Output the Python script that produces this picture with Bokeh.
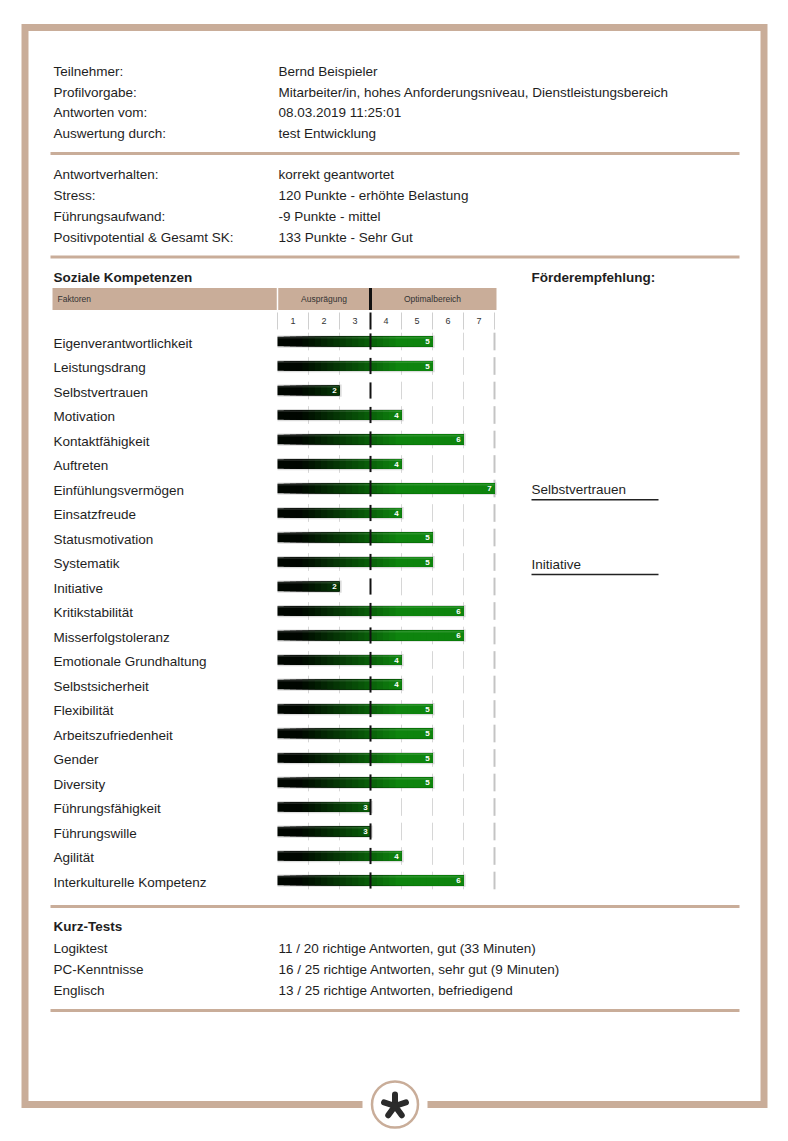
import math
from bokeh.plotting import figure
from bokeh.models import Range1d
from bokeh.core.properties import value
from bokeh.embed import file_html
from bokeh.resources import INLINE

# ---------------- data ----------------
info_labels = ["Teilnehmer:", "Profilvorgabe:", "Antworten vom:", "Auswertung durch:"]
info_values = ["Bernd Beispieler",
               "Mitarbeiter/in, hohes Anforderungsniveau, Dienstleistungsbereich",
               "08.03.2019 11:25:01",
               "test Entwicklung"]
result_labels = ["Antwortverhalten:", "Stress:", "Führungsaufwand:", "Positivpotential & Gesamt SK:"]
result_values = ["korrekt geantwortet", "120 Punkte - erhöhte Belastung",
                 "-9 Punkte - mittel", "133 Punkte - Sehr Gut"]
factors = ["Eigenverantwortlichkeit", "Leistungsdrang", "Selbstvertrauen", "Motivation",
           "Kontaktfähigkeit", "Auftreten", "Einfühlungsvermögen", "Einsatzfreude",
           "Statusmotivation", "Systematik", "Initiative", "Kritikstabilität",
           "Misserfolgstoleranz", "Emotionale Grundhaltung", "Selbstsicherheit",
           "Flexibilität", "Arbeitszufriedenheit", "Gender", "Diversity",
           "Führungsfähigkeit", "Führungswille", "Agilität", "Interkulturelle Kompetenz"]
scores = [5, 5, 2, 4, 6, 4, 7, 4, 5, 5, 2, 6, 6, 4, 4, 5, 5, 5, 5, 3, 3, 4, 6]
scale_ticks = [1, 2, 3, 4, 5, 6, 7]
optimum_start = 3
recommendations = ["Selbstvertrauen", "Initiative"]
test_names = ["Logiktest", "PC-Kenntnisse", "Englisch"]
test_results = ["11 / 20 richtige Antworten, gut (33 Minuten)",
                "16 / 25 richtige Antworten, sehr gut (9 Minuten)",
                "13 / 25 richtige Antworten, befriedigend"]

# ---------------- layout / style ----------------
W, H = 780, 1133
TAN = "#c9ad99"
TXT = "#1e1e1e"
FONT = value("Liberation Sans")
FS = "13.5px"
X0, UNIT = 277.0, 31.0      # pixel of score 0, pixels per score unit
Y0, ROW = 341.0, 24.5       # pixel of first row centre, row pitch
REC_ROWS = [6.05, 9.1]

p = figure(width=W, height=H, x_range=Range1d(0, W), y_range=Range1d(H, 0),
           output_backend="svg", toolbar_location=None, min_border=0,
           x_axis_location=None, y_axis_location=None)
p.grid.visible = False
p.outline_line_color = None
p.background_fill_color = "white"
p.border_fill_color = "white"
p.extra_x_ranges = {"score": Range1d((0 - X0) / UNIT, (W - X0) / UNIT)}
p.extra_y_ranges = {"row": Range1d((H - Y0) / ROW, (0 - Y0) / ROW)}


def txt(xs, ys, texts, size=FS, color=TXT, style="normal", align="left", **kw):
    p.text(x=xs, y=ys, text=texts, text_font=FONT, text_font_size=size,
           text_color=color, text_font_style=style, text_align=align,
           text_baseline="middle", **kw)


# outer frame with gap for the logo
CX, CY = 394.5, 1104.0
p.line([362, 24.5, 24.5, 763.5, 763.5, 427], [1104, 1104, 27, 27, 1104, 1104],
       line_color=TAN, line_width=7, line_join="miter")
p.scatter([CX], [CY], marker="circle", size=46, fill_color="white",
          line_color=TAN, line_width=2.5)
L = 11.5
ang = [math.radians(a) for a in (0, 72, 144, 216, 288)]
p.segment(x0=[CX] * 5, y0=[CY + 1.5] * 5,
          x1=[CX + L * math.sin(a) for a in ang],
          y1=[CY + 1.5 - L * math.cos(a) for a in ang],
          line_color="#2b2b2b", line_width=6, line_cap="round")

# separators
for ys in (153, 256.5, 906, 1010):
    p.segment(x0=[50], y0=[ys], x1=[739], y1=[ys], line_color=TAN, line_width=3)

# header blocks
hy = [71 + 20.7 * k for k in range(len(info_labels))]
txt([53] * len(hy), hy, info_labels)
txt([278] * len(hy), hy, info_values)
ry = [173.5 + 21.2 * k for k in range(len(result_labels))]
txt([53] * len(ry), ry, result_labels)
txt([278] * len(ry), ry, result_values)

# section titles
txt([53], [277], ["Soziale Kompetenzen"], style="bold")
txt([531], [277], ["Förderempfehlung:"], style="bold")

# table header band
p.quad(left=[52], right=[496], top=[287.5], bottom=[309.5], fill_color=TAN, line_color=None)
p.segment(x0=[X0], y0=[287.5], x1=[X0], y1=[309.5], line_color="white", line_width=1.5)
txt([57], [298.5], ["Faktoren"], size="8.5px", color="#333333")
txt([optimum_start / 2], [298.5], ["Ausprägung"], size="8.5px", color="#333333",
    align="center", x_range_name="score")
txt([(optimum_start + scale_ticks[-1]) / 2], [298.5], ["Optimalbereich"], size="8.5px",
    color="#333333", align="center", x_range_name="score")
p.segment(x0=[optimum_start], y0=[287.5], x1=[optimum_start], y1=[309.5],
          line_color="#111111", line_width=3, x_range_name="score")

# tick row
sep = [0] + scale_ticks
p.segment(x0=[s for s in sep if s != optimum_start], y0=[312] * (len(sep) - 1),
          x1=[s for s in sep if s != optimum_start], y1=[329] * (len(sep) - 1),
          line_color="#cfcfcf", line_width=1, x_range_name="score")
p.segment(x0=[optimum_start], y0=[312], x1=[optimum_start], y1=[329],
          line_color="#111111", line_width=2, x_range_name="score")
txt([t - 0.5 for t in scale_ticks], [320.5] * len(scale_ticks), [str(t) for t in scale_ticks],
    size="9px", color="#333333", align="center", x_range_name="score")

# factor labels
rows = list(range(len(factors)))
txt([53] * len(rows), [r + 0.08 for r in rows], factors, y_range_name="row")

# per-row grid segments (light)
gx, gy0, gy1 = [], [], []
for r in rows:
    for t in scale_ticks[:-1]:
        if t == optimum_start:
            continue
        gx.append(t); gy0.append(r - 0.36); gy1.append(r + 0.36)
p.segment(x0=gx, y0=gy0, x1=gx, y1=gy1, line_color="#d6d6d6", line_width=1,
          x_range_name="score", y_range_name="row")
p.segment(x0=[scale_ticks[-1]] * len(rows), y0=[r - 0.36 for r in rows],
          x1=[scale_ticks[-1]] * len(rows), y1=[r + 0.36 for r in rows],
          line_color="#c4c4c4", line_width=2, x_range_name="score", y_range_name="row")

# bar shadows
p.quad(left=[0] * len(rows), right=[v + 0.07 for v in scores],
       top=[r - 0.25 for r in rows], bottom=[r + 0.25 for r in rows],
       fill_color="#9a9a9a", fill_alpha=0.35, line_color=None,
       x_range_name="score", y_range_name="row")


def bar_color(s):
    t = min(max((s - 0.7) / 3.2, 0.0), 1.0)
    g = int(6 + 126 * t)
    rb = int(14 * t)
    return "#%02x%02x%02x" % (rb, g, rb)


# gradient bars: each piece runs from its start to the bar end, later pieces on top
STEP = 0.2
ql, qr, qt, qb, qc = [], [], [], [], []
for r, v in zip(rows, scores):
    n = int(round(v / STEP))
    for k in range(n):
        left = k * STEP
        ql.append(left); qr.append(v)
        qt.append(r - 0.19); qb.append(r + 0.19)
        qc.append(bar_color(left + STEP / 2))
p.quad(left=ql, right=qr, top=qt, bottom=qb, fill_color=qc, line_color=None,
       x_range_name="score", y_range_name="row")
# subtle top highlight
p.segment(x0=[0.0] * len(rows), y0=[r - 0.15 for r in rows], x1=scores,
          y1=[r - 0.15 for r in rows], line_color="white", line_alpha=0.12, line_width=1.5,
          x_range_name="score", y_range_name="row")

# optimum boundary line on top
p.segment(x0=[optimum_start] * len(rows), y0=[r - 0.33 for r in rows],
          x1=[optimum_start] * len(rows), y1=[r + 0.33 for r in rows],
          line_color="#111111", line_width=2, x_range_name="score", y_range_name="row")

# value labels
txt([v - 0.09 for v in scores], rows, [str(v) for v in scores], size="8px",
    color="white", style="bold", align="right", x_range_name="score", y_range_name="row")

# recommendations
rec_y = [Y0 + ROW * r for r in REC_ROWS]
txt([531] * len(recommendations), rec_y, recommendations)
p.segment(x0=[531] * len(rec_y), y0=[y + 10 for y in rec_y],
          x1=[658] * len(rec_y), y1=[y + 10 for y in rec_y],
          line_color="#222222", line_width=1.5)

# short tests
txt([53], [926], ["Kurz-Tests"], style="bold")
ty = [948 + 21 * k for k in range(len(test_names))]
txt([53] * len(ty), ty, test_names)
txt([278] * len(ty), ty, test_results)

open("out.html", "w").write(file_html(p, INLINE))
